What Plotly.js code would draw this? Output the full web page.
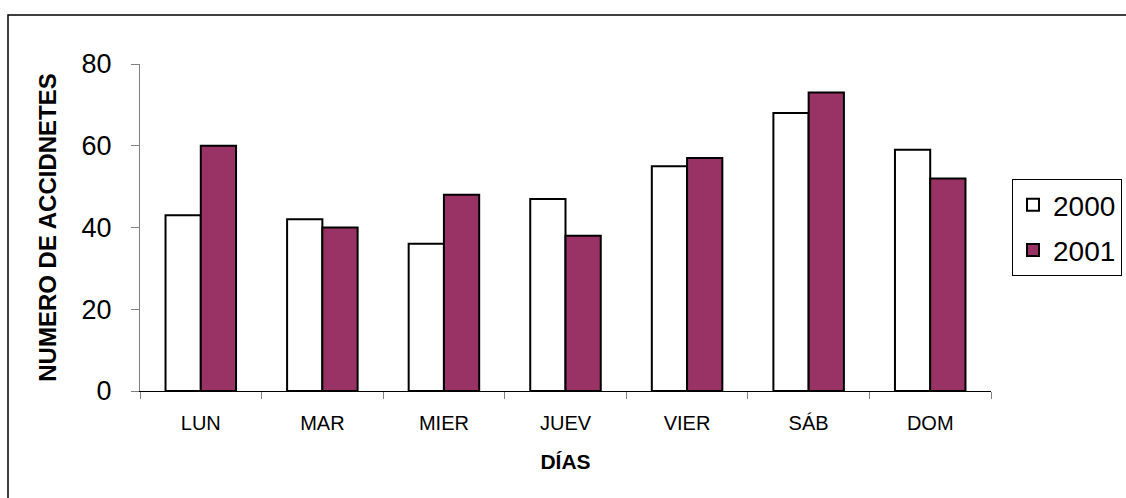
<!DOCTYPE html>
<html>
<head>
<meta charset="utf-8">
<script src="https://cdn.plot.ly/plotly-3.0.1.min.js"></script>
<style>
html,body{margin:0;padding:0;background:#fff;}
#chart{width:1126px;height:498px;}
</style>
</head>
<body>
<div id="chart"></div>
<script>
const dias = ["LUN", "MAR", "MIER", "JUEV", "VIER", "SÁB", "DOM"];
const valores2000 = [43, 42, 36, 47, 55, 68, 59];
const valores2001 = [60, 40, 48, 38, 57, 73, 52];
const yTicks = [0, 20, 40, 60, 80];

const FONT = "Liberation Sans, Arial, sans-serif";

const traces = [
  {
    type: "bar", name: "2000", x: dias, y: valores2000, legendgroup: "a",
    marker: {color: "#ffffff", line: {color: "#000000", width: 2}}
  },
  {
    type: "bar", name: "2001", x: dias, y: valores2001, legendgroup: "b",
    marker: {color: "#993366", line: {color: "#000000", width: 2}}
  }
];

const L = 140, R = 991, T = 64, B = 391, W = 1126, H = 498;
const pw = R - L, ph = B - T;
const px = v => (v - L) / pw;
const py = v => (B - v) / ph;

const layout = {
  width: W, height: H,
  margin: {l: L, r: W - R, t: T, b: H - B, pad: 0, autoexpand: false},
  paper_bgcolor: "#ffffff", plot_bgcolor: "#ffffff",
  font: {family: FONT, color: "#000000"},
  barmode: "group", bargap: 0.42, bargroupgap: 0,
  showlegend: true,
  legend: {
    x: px(1012), y: py(179), xanchor: "left", yanchor: "top",
    bordercolor: "#000000", borderwidth: 1, bgcolor: "#ffffff",
    font: {family: FONT, size: 28, color: "#000000"},
    itemwidth: 30, traceorder: "grouped", tracegroupgap: 6
  },
  xaxis: {
    type: "category",
    tickson: "boundaries",
    ticks: "outside", ticklen: 7, tickcolor: "#808080", tickwidth: 1,
    showline: true, linecolor: "#000000", linewidth: 1,
    showgrid: false, zeroline: false,
    tickfont: {family: FONT, size: 20, color: "#000000"},
    ticklabelstandoff: 14,
    title: {text: "DÍAS", font: {family: FONT, size: 21, color: "#000000", weight: "bold"}, standoff: 21},
    fixedrange: true
  },
  yaxis: {
    range: [0, 80], tickvals: yTicks, ticktext: yTicks.map(String),
    ticks: "outside", ticklen: 8, tickcolor: "#808080", tickwidth: 1,
    showline: true, linecolor: "#808080", linewidth: 1,
    showgrid: false, zeroline: false,
    tickfont: {family: FONT, size: 27, color: "#000000"},
    ticklabelstandoff: 14,
    title: {text: "NUMERO DE ACCIDNETES", font: {family: FONT, size: 24, color: "#000000", weight: "bold"}, standoff: 18},
    fixedrange: true
  },
  shapes: [
    {type: "rect", xref: "paper", yref: "paper",
     x0: px(8), x1: px(1140), y0: py(510), y1: py(15),
     line: {color: "#000000", width: 1.5}, fillcolor: "rgba(0,0,0,0)", layer: "below"}
  ]
};

Plotly.newPlot("chart", traces, layout, {staticPlot: true, displayModeBar: false});
</script>
</body>
</html>
